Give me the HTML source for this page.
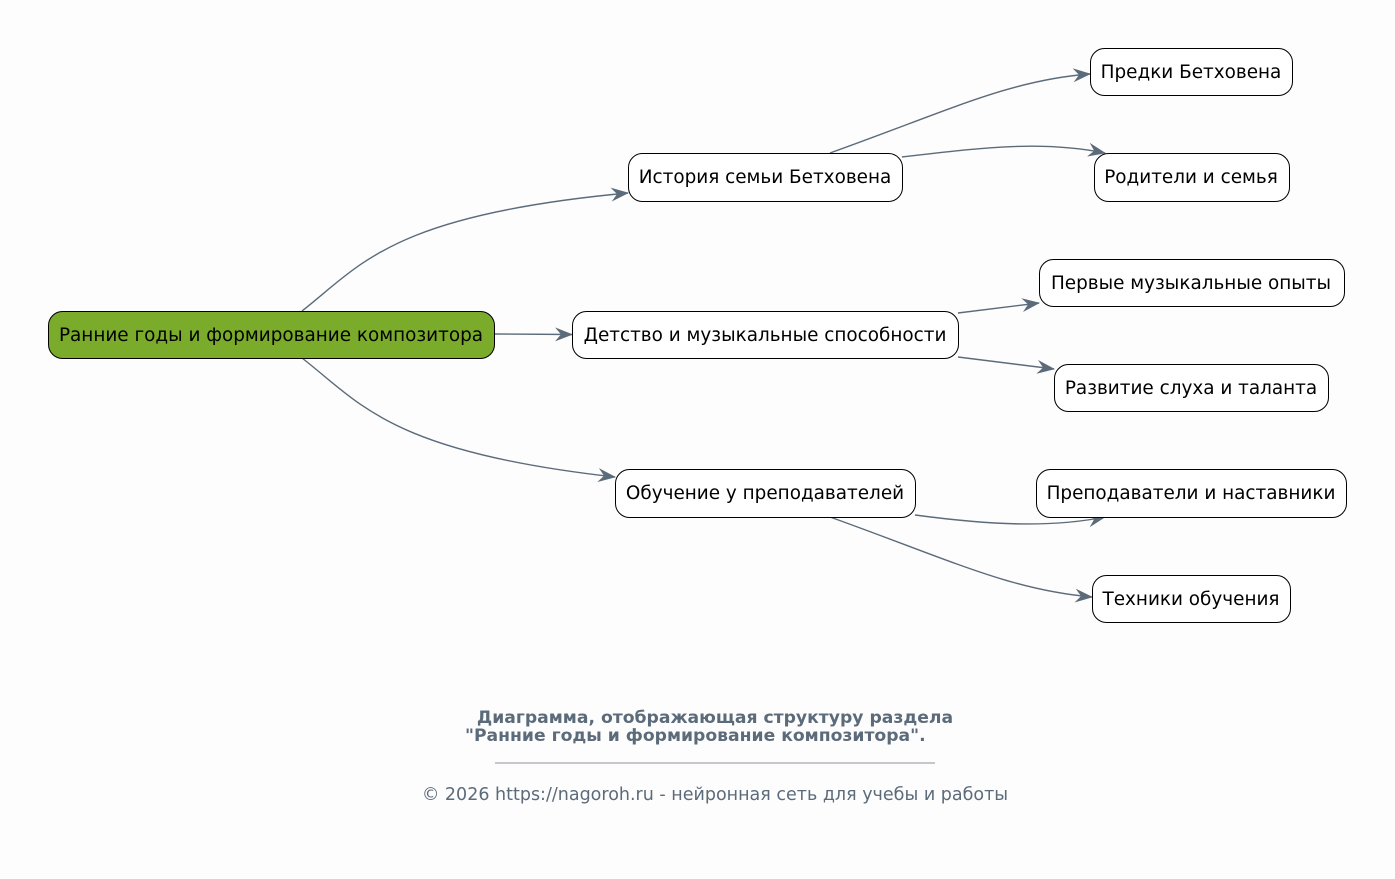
<!DOCTYPE html>
<html><head><meta charset="utf-8"><style>
body{margin:0;background:#fdfdfd;}
svg{display:block;font-family:"DejaVu Sans","Liberation Sans",sans-serif;}
</style></head><body>
<svg width="1395" height="879" viewBox="0 0 1395 879" xmlns="http://www.w3.org/2000/svg">
<defs>
<marker id="a" viewBox="0 0 18 14" refX="17" refY="7" markerWidth="18" markerHeight="14" markerUnits="userSpaceOnUse" orient="auto">
<path d="M0,0 L18,7 L0,14 L6,7 z" fill="#5c6b7a"/>
</marker>
</defs>
<rect width="1395" height="879" fill="#fdfdfd"/>
<g fill="none" stroke="#5c6b7a" stroke-width="1.4" marker-end="url(#a)">
<path d="M302,311 C360,266 390,215 628,193"/>
<path d="M494,334 L572,334.5"/>
<path d="M302,358 C360,403 390,452 615,477"/>
<path d="M830,153 C950,110 1010,80 1090,74"/>
<path d="M902,157 C980,148 1040,140 1105,153"/>
<path d="M958,313 L1039,303"/>
<path d="M958,357 L1054,369"/>
<path d="M915,515 C990,525 1050,528 1105,517"/>
<path d="M830,517 C950,560 1010,590 1092,597"/>
</g>
<g stroke="#000" stroke-width="1" fill="#fff">
<rect x="48.5" y="311.5" width="446" height="47" rx="14" fill="#7aab2b"/>
<rect x="628.5" y="153.5" width="274" height="48" rx="14"/>
<rect x="572.5" y="311.5" width="386" height="47" rx="14"/>
<rect x="615.5" y="469.5" width="300" height="48" rx="14"/>
<rect x="1090.5" y="48.5" width="202" height="47" rx="14"/>
<rect x="1094.5" y="153.5" width="195" height="48" rx="14"/>
<rect x="1039.5" y="259.5" width="305" height="47" rx="14"/>
<rect x="1054.5" y="364.5" width="274" height="47" rx="14"/>
<rect x="1036.5" y="469.5" width="310" height="48" rx="14"/>
<rect x="1092.5" y="575.5" width="198" height="47" rx="14"/>
</g>
<g font-size="18.4" fill="#000" text-anchor="middle">
<text x="271" y="341">Ранние годы и формирование композитора</text>
<text x="765" y="183">История семьи Бетховена</text>
<text x="765" y="341">Детство и музыкальные способности</text>
<text x="765" y="499">Обучение у преподавателей</text>
<text x="1191" y="78">Предки Бетховена</text>
<text x="1191" y="183">Родители и семья</text>
<text x="1191" y="289">Первые музыкальные опыты</text>
<text x="1191" y="394">Развитие слуха и таланта</text>
<text x="1191" y="499">Преподаватели и наставники</text>
<text x="1191" y="605">Техники обучения</text>
</g>
<g fill="#5c6b7a" font-size="17.2">
<text x="715" y="723" text-anchor="middle" font-weight="bold">Диаграмма, отображающая структуру раздела</text>
<text x="465" y="741" font-weight="bold">"Ранние годы и формирование композитора".</text>
<line x1="495" y1="763" x2="935" y2="763" stroke="#8a949e" stroke-width="1"/>
<text x="715" y="800" text-anchor="middle" font-size="17.5">© 2026 https://nagoroh.ru - нейронная сеть для учебы и работы</text>
</g>
</svg>
</body></html>
